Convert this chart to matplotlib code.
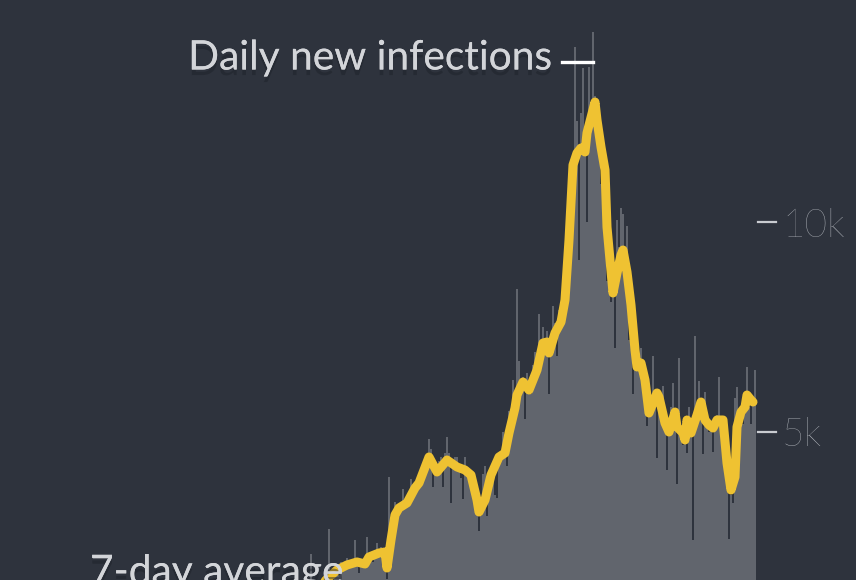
# Daily new infections with 7-day average, dark theme

import matplotlib
matplotlib.use('Agg')
import matplotlib.pyplot as plt
import matplotlib.patheffects as pe
import numpy as np

# Daily new infections, one value per day (day 0 = first bar in view)

daily = [900, 1000, 1100, 950, 1200, 2100, 1100, 1250, 1000, 1300, 1350, 1150, 1400, 1300, 2680, 1450, 1350, 1550,
         1750, 1600, 1900, 1700, 1800, 2000, 1750, 1850, 1900, 2420, 1950, 1640, 1900, 1950, 1800, 2500, 2000, 2100,
         1900, 2150, 2360, 2100, 2260, 2200, 2150,
         1500, 3930, 2900, 3000, 3330, 3000, 3200, 3100, 3650, 3300, 3250, 3500, 3880, 3600, 3650, 3700, 4000, 3800,
         4100, 4200, 4300, 4830, 4600, 3700, 4200, 4100, 4300, 4400, 3690, 4500, 4880, 4500, 3310, 4300, 4400, 4400,
         4100, 3900,
         3400, 4400, 4100, 3900, 4000, 3600, 3300, 3200, 2650, 3000, 4000, 4200, 3000, 3700, 4000, 3900, 3500, 3430,
         4300, 4500,
         5000, 4600, 4200, 5500, 5000, 6240, 5600, 8400, 6690, 6100, 6300, 5300, 6400, 6200, 5900, 6600, 6900, 6500,
         7800, 7200,
         7500, 7000, 7400, 5900, 7300, 8000, 7600, 6800, 7900, 8100, 8400, 8200, 10000, 9500, 10800, 11500, 14160,
         12400, 9100, 12600,
         13670, 12000, 10000, 13700, 12500, 14520, 13000, 12600, 12000, 10900, 11700, 10500, 8600, 9500, 8100, 8500,
         7000, 10040, 9400, 10330,
         10190, 9000, 9900, 7200, 8000, 5900, 7000, 6500, 6600, 7000, 6400, 6300, 5150, 5500, 5700, 6800, 5900, 4370,
         5800, 5600,
         6100, 5300, 4100, 5000, 5600, 6170, 5500, 3760, 6760, 5000, 4700, 5100, 4500, 5600, 4900, 2430, 7280, 5300,
         6210, 5700,
         4480, 5950, 5300, 5000, 5200, 4520, 5300, 5400, 6310, 5200, 5100, 4400, 4100, 2450, 3500, 3300, 5800, 6070,
         5200, 5600, 5200, 5700, 6550, 5600, 5200, 5800, 6470]

# 7-day average

avg_day = [8, 13, 18, 23, 28, 32, 34, 39, 42, 43, 45, 47, 49, 53, 57, 59, 64, 68, 73, 78, 82, 85, 88, 89, 92,
           95, 99, 102, 104, 107, 108, 111, 114, 118, 121, 123, 124, 127, 130, 132, 134, 136, 138, 140, 142,
           143, 147, 148, 150, 152, 153, 156, 158, 160, 161, 163, 165, 167, 168, 170, 172, 174, 178, 179, 182,
           184, 187, 188, 191, 192, 193, 195, 198, 200, 202, 204, 206, 208, 211, 213, 215, 217, 218, 220, 222,
           223, 225, 226]
avg_val = [1250, 1500, 1714, 1833, 1905, 1857, 2024, 2119, 2143, 1762, 2429, 3024, 3190, 3310, 3667, 3786, 4405,
           4048, 4333, 4167, 4095, 3976, 3381, 3095, 3381, 3976, 4405, 4500, 4976, 5571, 5881, 6190, 6000, 6476,
           7119, 7143, 6881, 7357, 7619, 8143, 9571, 11357, 11643, 11762, 11667, 12119, 12857, 12429, 11786,
           11238, 9881, 8310, 8786, 9214, 9333, 8810, 8024, 6952, 6548, 6643, 6238, 5452, 5929, 5833, 5214, 5000,
           5476, 5119, 4976, 4810, 5286, 4976, 5405, 5714, 5286, 5167, 5095, 5286, 5286, 4262, 3619, 3929, 5119,
           5476, 5595, 5881, 5762, 5714]

tick_vals = [5000, 10000]
tick_labels = ['5k', '10k']

# Colours

bg = '#2e333d'
bar_col = '#61656d'
yellow = '#efc232'
text_col = '#d3d5d9'
tick_col = '#b6bac0'

plt.rcParams['font.family'] = ['Lato', 'DejaVu Sans']

fig = plt.figure(figsize=(8.56, 5.80), dpi=100)
fig.patch.set_facecolor(bg)
ax = fig.add_axes([0, 0, 1, 1])
ax.set_facecolor(bg)

days = np.arange(len(daily))
ax.bar(days, daily, width=1.0, color=bar_col, linewidth=0, zorder=1)
ax.plot(avg_day, avg_val, color=yellow, linewidth=6.5, solid_capstyle='round',
        solid_joinstyle='round', zorder=3)

# one day = 2 px, frame is cropped so zero sits below the picture
ax.set_xlim(-150.5, 277.5)
ax.set_ylim(1476, 15286)
ax.axis('off')

# right-hand ticks
last = len(daily)
for v, lab in zip(tick_vals, tick_labels):
    ax.plot([last + 0.5, last + 9.5], [v, v], color='#c9ccd1', linewidth=1.6, zorder=2)
    ax.text(last + 12.5, v, lab, color=tick_col, fontsize=28, fontweight='light',
            ha='left', va='center_baseline')

shadow = [pe.withSimplePatchShadow(offset=(0, -4), shadow_rgbFace='#1c2027', alpha=0.45), pe.Normal()]

# labels
ax.text(125.5, 13631, 'Daily new infections', color=text_col, fontsize=29.3,
        ha='right', va='baseline', zorder=5, path_effects=shadow)
ax.plot([130.5, 146], [13810, 13810], color='white', linewidth=2.4, zorder=4)

ax.text(-105.5, 1381, '7-day average', color=text_col, fontsize=29.3,
        ha='left', va='baseline', zorder=5, path_effects=shadow)

plt.savefig('out.png', dpi=100, facecolor=bg)
